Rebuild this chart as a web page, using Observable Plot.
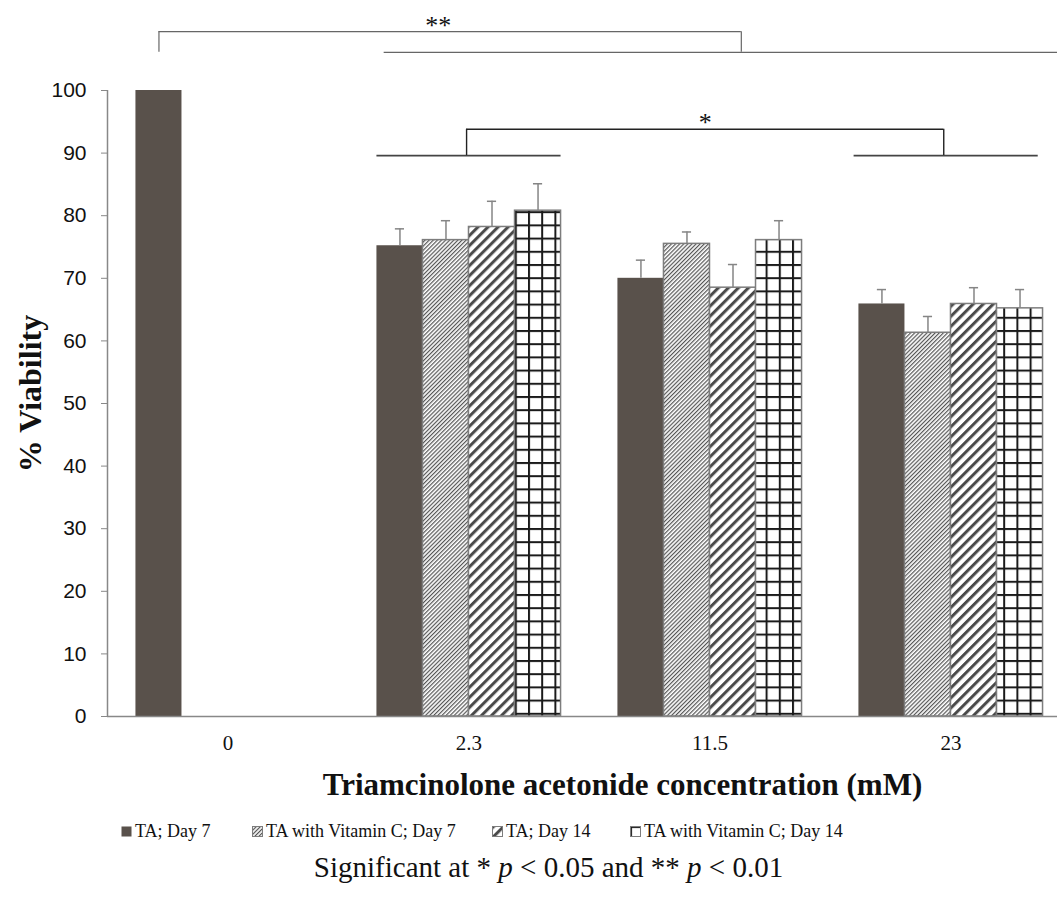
<!DOCTYPE html>
<html><head><meta charset="utf-8">
<script src="https://cdn.jsdelivr.net/npm/d3@7"></script>
<script src="https://cdn.jsdelivr.net/npm/@observablehq/plot@0.6"></script>
<style>
html,body{margin:0;padding:0;background:#fff;}
body{width:1057px;height:897px;overflow:hidden;position:relative;font-family:"Liberation Serif","Times New Roman",serif;color:#111;}
#chart{position:absolute;left:0;top:0;}
#legend{position:absolute;top:819px;left:0;width:1057px;height:24px;font-size:18px;}
.item{position:absolute;top:0;height:24px;display:flex;align-items:center;white-space:nowrap;}
.item svg{margin-right:3px;}
#caption{position:absolute;top:850px;left:40px;width:1017px;text-align:center;font-size:29px;line-height:34px;}
</style></head><body>
<div id="chart"></div>
<div id="legend"></div>
<div id="caption">Significant at * <i>p</i> &lt; 0.05 and ** <i>p</i> &lt; 0.01</div>
<script>
// ---- data ----
const categories = ["0", "2.3", "11.5", "23"];
const series = ["TA; Day 7", "TA with Vitamin C; Day 7", "TA; Day 14", "TA with Vitamin C; Day 14"];
const taDay7      = [100, 75.2, 70.0, 65.9];
const taVitCDay7  = [null, 76.1, 75.5, 61.3];
const taDay14     = [null, 78.2, 68.5, 65.9];
const taVitCDay14 = [null, 80.8, 76.1, 65.2];
const taDay7Err      = [null, 2.7, 2.9, 2.3];
const taVitCDay7Err  = [null, 3.1, 1.9, 2.6];
const taDay14Err     = [null, 4.1, 3.7, 2.6];
const taVitCDay14Err = [null, 4.3, 3.1, 3.0];
const yTicks = [0, 10, 20, 30, 40, 50, 60, 70, 80, 90, 100];
const xTitle = "Triamcinolone acetonide concentration (mM)";
const yTitle = "% Viability";

// ---- table ----
const values = [taDay7, taVitCDay7, taDay14, taVitCDay14];
const errors = [taDay7Err, taVitCDay7Err, taDay14Err, taVitCDay14Err];
const BW = 0.191; // bar width in category units
const rows = [];
values.forEach((vals, si) => vals.forEach((v, ci) => {
  if (v == null) return;
  const x1 = ci + (si - 2) * BW;
  rows.push({cat: ci, si, series: series[si], value: v, err: errors[si][ci], x1, x2: x1 + BW, xc: x1 + BW / 2});
}));
const withErr = rows.filter(d => d.err != null);

const fills = ["#59514b", "url(#pFine)", "url(#pWide)", "url(#pGrid)"];
const xDomain = [-0.5, 3.442];

// significance brackets (value units above the axis)
const UP = 109.4, UP_FOOT = 106.1, LO = 93.8, LO_FOOT = 89.6;
const c0 = 0 + (0 - 2) * BW + BW / 2;
const groupHalf = 2 * BW;
const upRight = 2.13;
const loL = 0.99, loR = 2.97;
const bracketH = [
  {x1: c0, x2: upRight, y: UP, s: "#666", w: 1.2},
  {x1: 1 - groupHalf + 0.03, x2: xDomain[1], y: UP_FOOT, s: "#666", w: 1.2},
  {x1: loL, x2: loR, y: LO, s: "#222", w: 1.6},
  {x1: 1 - groupHalf, x2: 1 + groupHalf, y: LO_FOOT, s: "#444", w: 1.6},
  {x1: 3 - groupHalf - 0.02, x2: 3 + groupHalf - 0.02, y: LO_FOOT, s: "#444", w: 1.6}
];
const bracketV = [
  {x: c0, y1: UP_FOOT, y2: UP, s: "#666", w: 1.2},
  {x: upRight, y1: UP_FOOT, y2: UP, s: "#666", w: 1.2},
  {x: loL, y1: LO_FOOT, y2: LO, s: "#222", w: 1.4},
  {x: loR, y1: LO_FOOT, y2: LO, s: "#222", w: 1.4}
];
const stars = [
  {x: (c0 + upRight) / 2, y: UP, t: "**", dx: -12},
  {x: (loL + loR) / 2, y: LO, t: "*", dx: 0}
];

const serif = "Liberation Serif, Times New Roman, serif";
const sans = "Liberation Sans, Arial, sans-serif";

const svg = Plot.plot({
  width: 1057, height: 800,
  marginLeft: 107, marginRight: 0, marginTop: 90, marginBottom: 84,
  style: {fontFamily: sans, fontSize: "21px", color: "#111", background: "white", overflow: "visible"},
  x: {domain: xDomain, axis: null},
  y: {domain: [0, 100], axis: null},
  color: {domain: series, range: fills},
  marks: [
    Plot.rectY(rows.filter(d => d.si === 0), {x1: "x1", x2: "x2", y: "value", fill: "series"}),
    Plot.rectY(rows.filter(d => d.si > 0), {x1: "x1", x2: "x2", y: "value", fill: "series", stroke: "#7d7d7d", strokeWidth: 1.5}),
    Plot.ruleX(withErr, {x: "xc", y1: "value", y2: d => d.value + d.err, stroke: "#858585", strokeWidth: 1.5}),
    Plot.ruleY(withErr, {y: d => d.value + d.err, x1: d => d.xc - 0.019, x2: d => d.xc + 0.019, stroke: "#858585", strokeWidth: 1.5}),
    Plot.ruleY([0], {stroke: "#888", strokeWidth: 1.5}),
    Plot.ruleX([xDomain[0]], {y1: 0, y2: 100, stroke: "#888", strokeWidth: 1.5}),
    Plot.axisY({ticks: yTicks, tickSize: 6, tickPadding: 15, stroke: "#888", fill: "#111", fontSize: 21, fontFamily: sans, label: null}),
    Plot.axisX({ticks: [0, 1, 2, 3], tickFormat: i => categories[i], tickSize: 0, tickPadding: 19, fill: "#111", fontSize: 21, fontFamily: serif, label: null}),
    Plot.text([xTitle], {frameAnchor: "bottom", dx: 40, dy: 69, text: d => d, fontSize: 31, fontWeight: "bold", fontFamily: serif, fill: "#111", lineAnchor: "middle"}),
    Plot.text([yTitle], {frameAnchor: "left", textAnchor: "middle", dx: -77, dy: -10, rotate: -90, text: d => d, fontSize: 32, fontWeight: "bold", fontFamily: serif, fill: "#111", lineAnchor: "middle"}),
    Plot.ruleY(bracketH, {y: "y", x1: "x1", x2: "x2", stroke: "s", strokeWidth: "w"}),
    Plot.ruleX(bracketV, {x: "x", y1: "y1", y2: "y2", stroke: "s", strokeWidth: "w"}),
    Plot.text(stars.filter(d => d.t === "**"), {x: "x", y: "y", text: "t", dx: -12, dy: 2, lineAnchor: "bottom", fontSize: 26, fontFamily: serif, fill: "#111"}),
    Plot.text(stars.filter(d => d.t === "*"), {x: "x", y: "y", text: "t", dy: 2, lineAnchor: "bottom", fontSize: 26, fontFamily: serif, fill: "#111"})
  ]
});

// hatch patterns
const defs = d3.select(svg).insert("defs", ":first-child");
const pf = defs.append("pattern").attr("id", "pFine").attr("patternUnits", "userSpaceOnUse")
  .attr("width", 2.9).attr("height", 2.9).attr("patternTransform", "rotate(45)");
pf.append("rect").attr("width", 2.9).attr("height", 2.9).attr("fill", "#fff");
pf.append("rect").attr("width", 1.2).attr("height", 2.9).attr("fill", "#555");
const pw = defs.append("pattern").attr("id", "pWide").attr("patternUnits", "userSpaceOnUse")
  .attr("width", 7.1).attr("height", 7.1).attr("patternTransform", "rotate(45)");
pw.append("rect").attr("width", 7.1).attr("height", 7.1).attr("fill", "#fff");
pw.append("rect").attr("width", 3).attr("height", 7.1).attr("fill", "#4a4a4a");
const pg = defs.append("pattern").attr("id", "pGrid").attr("patternUnits", "userSpaceOnUse")
  .attr("width", 13.2).attr("height", 13.2);
pg.append("rect").attr("width", 13.2).attr("height", 13.2).attr("fill", "#fff");
pg.append("rect").attr("width", 2).attr("height", 13.2).attr("fill", "#1a1a1a");
pg.append("rect").attr("width", 13.2).attr("height", 2).attr("fill", "#1a1a1a");

document.getElementById("chart").appendChild(svg);

// legend
const legendLefts = [121, 252, 492, 630];
const legend = d3.select("#legend");
series.forEach((s, i) => {
  const item = legend.append("div").attr("class", "item").style("left", legendLefts[i] + "px");
  const sw = item.append("svg").attr("width", 11).attr("height", 11);
  sw.append("rect").attr("x", 0.5).attr("y", 0.5).attr("width", 10).attr("height", 10)
    .attr("fill", fills[i]).attr("stroke", i === 0 ? "none" : "#7d7d7d").attr("stroke-width", 1);
  item.append("span").text(s);
});
</script></body></html>
